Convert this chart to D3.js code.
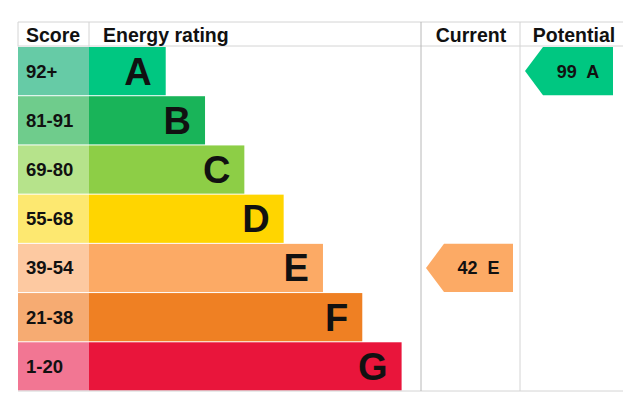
<!DOCTYPE html>
<html>
<head>
<meta charset="utf-8">
<script src="https://cdn.jsdelivr.net/npm/d3@7"></script>
<style>
  body { margin: 0; background: #fff; }
  text { font-family: Arial, "Liberation Sans", sans-serif; font-weight: bold; fill: #111; }
</style>
</head>
<body>
<script>
var bands = ["A", "B", "C", "D", "E", "F", "G"],
  scoreLabels = ["92+", "81-91", "69-80", "55-68", "39-54", "21-38", "1-20"],
  barColors = ["#00c781", "#19b459", "#8dce46", "#ffd500", "#fcaa65", "#ef8023", "#e9153b"],
  scoreColors = ["#66cba6", "#6fcc8c", "#b6e38b", "#fde870", "#fdc9a1", "#f6ab72", "#f27693"],
  headers = ["Score", "Energy rating", "Current", "Potential"],
  currentRating = [42, "E"],
  potentialRating = [99, "A"];

var width = 634, height = 403,
  leftX = 18, rightX = 623, topY = 22, headBottom = 46.5, bottomY = 391,
  scoreEnd = 89, currentX = 421, potentialX = 520;

var svg = d3.select("body").append("svg")
  .attr("width", width)
  .attr("height", height);

var y = d3.scaleBand().domain(bands).range([headBottom, bottomY]);
// bar end grows one step per band
var x = d3.scaleLinear().domain([0, 7]).range([126.4, 401.6]);

//score cells
svg.selectAll("rect.score")
  .data(bands)
  .enter().append("rect")
  .attr("class", "score")
  .attr("x", leftX)
  .attr("y", function(d) { return y(d) + 0.5; })
  .attr("width", scoreEnd - leftX)
  .attr("height", y.bandwidth() - 1)
  .attr("fill", function(d, i) { return scoreColors[i]; });

svg.selectAll("text.score")
  .data(bands)
  .enter().append("text")
  .attr("class", "score")
  .attr("x", 26)
  .attr("y", function(d) { return y(d) + y.bandwidth() / 2 + 6.5; })
  .attr("font-size", 18.5)
  .text(function(d, i) { return scoreLabels[i]; });

//rating bars
svg.selectAll("rect.bar")
  .data(bands)
  .enter().append("rect")
  .attr("class", "bar")
  .attr("x", scoreEnd)
  .attr("y", function(d) { return y(d) + 0.5; })
  .attr("width", function(d, i) { return x(i + 1) - scoreEnd; })
  .attr("height", y.bandwidth() - 1)
  .attr("fill", function(d, i) { return barColors[i]; });

svg.selectAll("text.letter")
  .data(bands)
  .enter().append("text")
  .attr("class", "letter")
  .attr("x", function(d, i) { return x(i + 1) - 14; })
  .attr("y", function(d) { return y(d) + y.bandwidth() / 2 + 13.5; })
  .attr("text-anchor", "end")
  .attr("font-size", 38)
  .text(function(d) { return d; });

//grid lines
var grid = svg.append("g").attr("stroke", "#d4d4d4").attr("stroke-width", 1);
[topY, headBottom - 0.5, bottomY].forEach(function(v) {
  grid.append("line").attr("x1", leftX).attr("x2", rightX).attr("y1", v).attr("y2", v);
});
grid.append("line").attr("x1", leftX).attr("x2", leftX).attr("y1", topY).attr("y2", headBottom);
grid.append("line").attr("x1", scoreEnd).attr("x2", scoreEnd).attr("y1", topY).attr("y2", headBottom);
grid.append("line").attr("x1", currentX).attr("x2", currentX).attr("y1", topY).attr("y2", bottomY).attr("stroke", "#b8b8b8");
grid.append("line").attr("x1", potentialX).attr("x2", potentialX).attr("y1", topY).attr("y2", bottomY);

//headers
var headX = [26, 103, 471, 574],
  headAnchor = ["start", "start", "middle", "middle"];
svg.selectAll("text.head")
  .data(headers)
  .enter().append("text")
  .attr("class", "head")
  .attr("x", function(d, i) { return headX[i]; })
  .attr("y", 41.5)
  .attr("text-anchor", function(d, i) { return headAnchor[i]; })
  .attr("font-size", 19.5)
  .text(function(d) { return d; });

//arrows for current and potential
function arrow(rating, colStart, colEnd) {
  var band = rating[1], i = bands.indexOf(band),
    t = y(band) + 0.5, b = y(band) + y.bandwidth() - 0.5, m = (t + b) / 2,
    tip = colStart + 5, body = tip + 18, end = colEnd - 7;
  svg.append("path")
    .attr("d", "M" + tip + "," + m + "L" + body + "," + t + "L" + end + "," + t +
      "L" + end + "," + b + "L" + body + "," + b + "Z")
    .attr("fill", barColors[i]);
  svg.append("text")
    .attr("x", (body + end) / 2)
    .attr("y", m + 6.5)
    .attr("text-anchor", "middle")
    .attr("font-size", 18)
    .attr("xml:space", "preserve")
    .text(rating[0] + "  " + band);
}
arrow(currentRating, currentX, potentialX);
arrow(potentialRating, potentialX, rightX - 3);
</script>
</body>
</html>
